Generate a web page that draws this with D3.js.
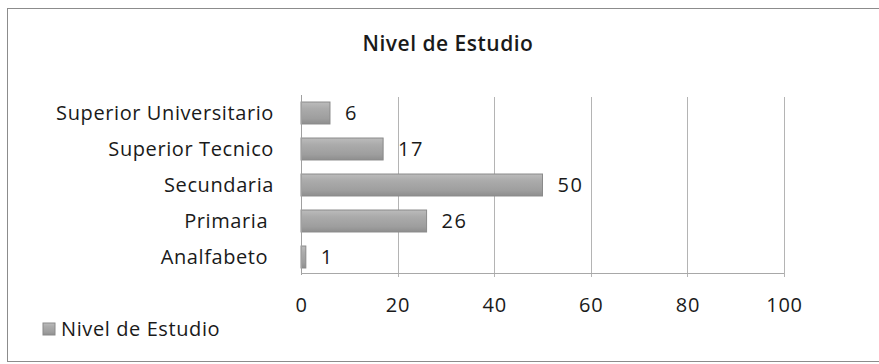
<!DOCTYPE html>
<html>
<head>
<meta charset="utf-8">
<script src="https://cdn.jsdelivr.net/npm/d3@7"></script>
<style>
  html, body { margin: 0; padding: 0; background: #fff; }
  svg text { font-family: "Open Sans", "Noto Sans", sans-serif; fill: #1a1a1a; white-space: pre; }
</style>
</head>
<body>
<svg id="chart" width="879" height="364"></svg>
<script>
const chartTitle = "Nivel de Estudio";
const seriesName = "Nivel de Estudio";
const categories = ["Superior Universitario", "Superior Tecnico", "Secundaria", "Primaria ", "Analfabeto "];
const values = [6, 17, 50, 26, 1];
const xTicks = [0, 20, 40, 60, 80, 100];

const svg = d3.select("#chart");
const plot = { left: 301, right: 784, top: 95, bottom: 275 };

// defs: bar gradient
const defs = svg.append("defs");
const grad = defs.append("linearGradient").attr("id", "barGrad")
  .attr("x1", 0).attr("y1", 0).attr("x2", 0).attr("y2", 1);
grad.append("stop").attr("offset", "0%").attr("stop-color", "#bcbcbc");
grad.append("stop").attr("offset", "30%").attr("stop-color", "#ababab");
grad.append("stop").attr("offset", "75%").attr("stop-color", "#9e9e9e");
grad.append("stop").attr("offset", "100%").attr("stop-color", "#8e8e8e");

// outer border
svg.append("rect")
  .attr("x", 7.5).attr("y", 8.5).attr("width", 900).attr("height", 353)
  .attr("fill", "none").attr("stroke", "#8c8c8c").attr("stroke-width", 1);

const x = d3.scaleLinear().domain([0, 100]).range([plot.left, plot.right]);
const y = d3.scaleBand().domain(categories).range([plot.top, plot.bottom])
  .paddingInner(0.39).paddingOuter(0.195);

// gridlines
svg.append("g").selectAll("line")
  .data(xTicks.filter(d => d > 0))
  .join("line")
  .attr("x1", d => Math.round(x(d)) + 0.5).attr("x2", d => Math.round(x(d)) + 0.5)
  .attr("y1", plot.top + 2).attr("y2", plot.bottom + 2)
  .attr("stroke", "#b4b4b4").attr("stroke-width", 1);

// bars
svg.append("g").selectAll("rect")
  .data(values)
  .join("rect")
  .attr("x", x(0))
  .attr("y", (d, i) => y(categories[i]))
  .attr("width", d => x(d) - x(0))
  .attr("height", y.bandwidth())
  .attr("fill", "url(#barGrad)")
  .attr("stroke", "#8a8a8a").attr("stroke-width", 1);

// axis lines
svg.append("line")
  .attr("x1", plot.left + 0.5).attr("x2", plot.left + 0.5)
  .attr("y1", plot.top).attr("y2", plot.bottom)
  .attr("stroke", "#a0a0a0");
svg.append("line")
  .attr("x1", plot.left).attr("x2", plot.right)
  .attr("y1", plot.bottom - 1.5).attr("y2", plot.bottom - 1.5)
  .attr("stroke", "#a8a8a8");

// data labels
svg.append("g").selectAll("text")
  .data(values)
  .join("text")
  .attr("x", d => x(d) + 15)
  .attr("y", (d, i) => y(categories[i]) + y.bandwidth() / 2)
  .attr("dy", "0.36em")
  .attr("font-size", 20).attr("letter-spacing", 1.5)
  .text(d => d);

// category labels (y axis)
const yAxis = d3.axisLeft(y).tickSize(0).tickPadding(0);
const gy = svg.append("g").attr("transform", `translate(274,0)`).call(yAxis);
gy.select(".domain").remove();
gy.selectAll("text").attr("font-size", 20).attr("letter-spacing", 0.6)
  .attr("font-family", null).attr("fill", "#1a1a1a").attr("dy", "0.36em");

// x axis tick labels
const xAxis = d3.axisBottom(x).tickValues(xTicks).tickSize(0).tickPadding(0);
const gx = svg.append("g").attr("transform", `translate(0,300)`).call(xAxis);
gx.select(".domain").remove();
gx.selectAll("text").attr("font-size", 20).attr("letter-spacing", 0.8)
  .attr("font-family", null).attr("fill", "#1a1a1a").attr("dy", "0.36em").attr("y", 5);

// title
svg.append("text")
  .attr("x", 448).attr("y", 43)
  .attr("text-anchor", "middle").attr("dy", "0.36em")
  .attr("font-size", 21).attr("font-weight", 600).attr("letter-spacing", 0.5)
  .text(chartTitle);

// legend
svg.append("rect").attr("x", 43).attr("y", 323).attr("width", 12).attr("height", 12)
  .attr("fill", "url(#barGrad)").attr("stroke", "#8a8a8a");
svg.append("text").attr("x", 61).attr("y", 329).attr("dy", "0.36em")
  .attr("font-size", 20).attr("letter-spacing", 0.6).text(seriesName);
</script>
</body>
</html>
